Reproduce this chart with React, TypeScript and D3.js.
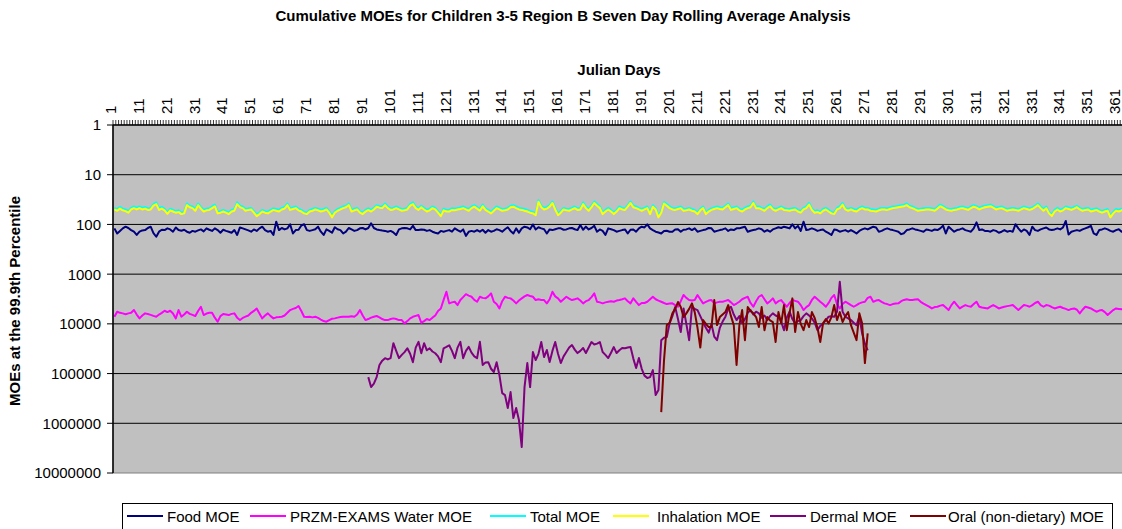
import React from 'react';
import * as d3 from 'd3';

const W = 1122;
const H = 529;

const dayCount = 365;
const tickDays = d3.range(1, 366, 10);
const yTicks = [1, 10, 100, 1000, 10000, 100000, 1000000, 10000000];

const foodMOE = [
  120,152,135,120,111,118,130,140,163,140,
  132,130,118,111,150,177,140,128,130,120,
  126,140,115,130,134,128,140,147,135,140,
  132,126,138,120,128,135,120,130,147,128,
  135,140,147,130,163,115,120,126,132,140,
  126,135,120,111,130,140,135,163,88,130,
  118,126,120,100,152,130,128,105,99,130,
  135,130,125,111,140,163,126,135,147,114,
  125,130,152,140,118,126,135,130,120,118,
  126,118,95,118,126,130,133,135,140,135,
  145,163,126,120,118,120,126,107,130,130,
  126,128,135,130,140,147,152,135,140,135,
  130,140,120,130,140,126,170,140,135,140,
  130,140,128,147,130,140,135,125,130,140,
  125,114,135,152,120,147,120,111,115,125,
  100,126,114,120,125,152,126,130,125,120,
  120,128,126,120,118,125,130,103,128,111,
  126,118,107,140,126,135,163,120,125,130,
  140,135,130,126,152,128,126,140,120,111,
  115,100,120,130,140,145,152,135,134,140,
  140,126,125,140,128,126,120,130,120,140,
  135,130,126,118,120,140,135,130,126,120,
  135,126,130,120,120,115,111,140,134,130,
  126,120,125,140,130,140,126,120,114,118,
  111,115,120,99,120,107,135,88,130,126,
  120,126,135,130,126,140,150,163,126,130,
  140,135,130,140,130,140,152,135,126,120,
  126,118,111,115,140,135,126,120,126,130,
  135,140,157,150,130,126,120,126,130,135,
  140,126,130,135,126,130,120,106,152,111,
  125,140,130,126,120,130,135,140,120,91,
  130,126,135,135,140,130,135,147,140,130,
  140,135,140,99,120,140,126,135,163,111,
  130,135,126,120,115,126,130,126,120,126,
  115,85,160,140,135,130,135,126,120,114,
  107,152,163,130,126,120,126,135,140,130,
  125,140,135,140,130,
];

const waterMOE = [
  7180,5700,6000,6150,6400,6150,6000,5280,6500,7760,
  6800,6150,6350,6600,6900,7180,6500,6000,5450,5800,
  5450,6200,7760,5280,7180,6500,5700,6300,6600,6950,
  5500,4530,6650,6200,6000,5950,7500,9050,7000,6350,
  6500,6650,6300,6150,7500,8390,7600,7180,6800,6000,
  5500,4900,6200,7760,6800,6150,7000,7760,7400,7300,
  7180,6800,6000,5280,5000,4800,4380,5500,7180,7300,
  7200,7400,7180,7600,8200,8800,9050,8400,7900,7760,
  7500,7300,7180,7180,7200,7000,7180,6500,5280,6800,
  8390,8000,7500,7200,6950,7400,8000,8390,8390,8000,
  7760,8000,8390,8390,9780,8800,7760,7200,6900,6650,
  9500,8800,8000,8390,7500,6800,5500,4900,3300,2260,
  3870,3700,3590,4190,3320,2900,2530,2700,2850,3300,
  3590,2850,3000,3070,2800,2440,3590,4000,4900,3500,
  2850,3000,3070,3400,3870,3400,3070,2800,2630,2750,
  2850,3320,3200,3300,3320,3870,3200,2260,2800,3070,
  3590,3200,2850,3100,3320,3200,3070,3400,3870,3500,
  3320,2900,2440,3590,3700,3870,3700,3600,3500,3590,
  3400,3320,3200,3070,3500,3870,3070,3600,4190,3800,
  3800,3590,3200,2850,3200,3400,3590,3800,4000,3900,
  3870,4200,4530,3500,2630,3000,3320,3400,3320,2630,
  3200,3870,3600,3400,3320,3870,3700,3600,3590,3450,
  3320,3700,4190,3900,3590,3200,3000,2850,3800,4530,
  3500,2850,2630,3200,3870,3500,3070,3870,3500,3320,
  3900,4530,3800,3320,3450,3590,4200,5280,4600,4190,
  3300,2850,3200,3590,4000,4530,3800,3000,2630,4000,
  4900,4000,3590,3870,4200,4530,4200,3870,3700,3590,
  3000,2850,3590,3400,3320,3600,3870,4000,4190,4000,
  3900,3870,3500,3300,3200,3300,3320,3250,3200,3600,
  3900,4190,4500,4900,4600,4530,4300,4190,4700,5280,
  4200,3590,4200,4900,4500,4190,4400,4530,4000,3590,
  4530,4700,4800,4900,4500,4190,4500,4900,4700,4530,
  4400,4300,4190,4700,5280,4700,4190,4300,4530,4200,
  3800,3590,4200,4530,4190,4300,4600,4900,4700,4530,
  4800,5000,5280,5000,4900,5200,6150,5200,4530,4700,
  4900,5300,5700,5400,5280,5800,6650,5900,5280,4900,
  5000,5100,5000,4900,5000,
];

const totalMOE = [
  46.5,49,44.5,48.5,50,54,46.5,43.5,46.5,43.5,
  46.5,44.5,47.5,46.5,39,36,47.5,44.5,48.5,56.5,
  48.5,51,54,52,57.5,56,38,42,43.5,49,
  38,44.5,51,48.5,47.5,43.5,40,56,54,51,
  54,57.5,51,49,36,42,43.5,49,47.5,46.5,
  54,63,57.5,51,54,56,51,47.5,49,51,
  46.5,44.5,38,47.5,45.5,43.5,48.5,51,56,57.5,
  51,49,46.5,48.5,51,49,46.5,54,67,54,
  49,46.5,43.5,42,38,51,48.5,46.5,54,57.5,
  51,47.5,51,46.5,41,43,43.5,38,43.5,47.5,
  46.5,43.5,46.5,49,48.5,46.5,39,36,43.5,47.5,
  42,46.5,51,48.5,43.5,46.5,54,63,48.5,51,
  51,47.5,48.5,46.5,45.5,43.5,46.5,49,43.5,41,
  44.5,49,40,47.5,51,56,49,43.5,46.5,49,
  48.5,46.5,42,41,43.5,46.5,47.5,49,51,54,
  56,60.5,32.5,42,46.5,44.5,41,34.5,46.5,60.5,
  54,46.5,48.5,49,46.5,43.5,47.5,46.5,36,43.5,
  49,42,34.5,39,43.5,57.5,51,46.5,51,57.5,
  51,43.5,46.5,47.5,41,34.5,42,43.5,46.5,49,
  46.5,43.5,57.5,41,46.5,67,54,35.5,39,43.5,
  46.5,47.5,45.5,43.5,49,48.5,46.5,49,51,57.5,
  48.5,43.5,57.5,51,47.5,45.5,43.5,45.5,46.5,42,
  38,47.5,45.5,43.5,48.5,51,46.5,43.5,42,34.5,
  43.5,43.5,46.5,49,43.5,40,46.5,49,46.5,43.5,
  47.5,48.5,49,47.5,46.5,51,54,46.5,43.5,37,
  47.5,54,52,56,49,46.5,51,56,57.5,46.5,
  43.5,37,46.5,49,46.5,49,51,46.5,43.5,46.5,
  46.5,49,50,51,48.5,46.5,46.5,47.5,45.5,43.5,
  43,42,41,40,38,42,43.5,46.5,49,48.5,
  47.5,46.5,46.5,47.5,49,44.5,40,43,46.5,48.5,
  49,47.5,46.5,44.5,43.5,45.5,47.5,43.5,41,43,
  46.5,43.5,42,41,40,43,46.5,44.5,43.5,46.5,
  49,47.5,46.5,47.5,49,46.5,43.5,45.5,47.5,45.5,
  42,38,43.5,49,43.5,56,63,51,46.5,51,
  48.5,43.5,45.5,47.5,44.5,42,46.5,49,47.5,46.5,
  51,49,47.5,51,54,51,49,67,56,49,
  51,48.5,46.5,49,47.5,
];

const inhalationMOE = [
  50,53,48,52,54,58,50,47,50,47,
  50,48,51,50,42,39,51,48,52,61,
  52,55,58,56,62,60,41,45,47,53,
  41,48,55,52,51,47,43,60,58,55,
  58,62,55,53,39,45,47,53,51,50,
  58,68,62,55,58,60,55,51,53,55,
  50,48,41,51,49,47,52,55,60,62,
  55,53,50,52,55,53,50,58,72,58,
  53,50,47,45,41,55,52,50,58,62,
  55,51,55,50,44,46,47,41,47,51,
  50,47,50,53,52,50,42,39,47,51,
  45,50,55,52,47,50,58,68,52,55,
  55,51,52,50,49,47,50,53,47,44,
  48,53,43,51,55,60,53,47,50,53,
  52,50,45,44,47,50,51,53,55,58,
  60,65,35,45,50,48,44,37,50,65,
  58,50,52,53,50,47,51,50,39,47,
  53,45,37,42,47,62,55,50,55,62,
  55,47,50,51,44,37,45,47,50,53,
  50,47,62,44,50,72,58,38,42,47,
  50,51,49,47,53,52,50,53,55,62,
  52,47,62,55,51,49,47,49,50,45,
  41,51,49,47,52,55,50,47,45,37,
  47,47,50,53,47,43,50,53,50,47,
  51,52,53,51,50,55,58,50,47,40,
  51,58,56,60,53,50,55,60,62,50,
  47,40,50,53,50,53,55,50,47,50,
  50,53,54,55,52,50,50,51,49,47,
  46,45,44,43,41,45,47,50,53,52,
  51,50,50,51,53,48,43,46,50,52,
  53,51,50,48,47,49,51,47,44,46,
  50,47,45,44,43,46,50,48,47,50,
  53,51,50,51,53,50,47,49,51,49,
  45,41,47,53,47,60,68,55,50,55,
  52,47,49,51,48,45,50,53,51,50,
  55,53,51,55,58,55,53,72,60,53,
  55,52,50,53,51,
];

const dermalStartDay = 92;
const dermalMOE = [
  118000,187000,160000,118000,67000,55000,49000,52000,49000,24500,
  35000,49000,42000,37000,31000,40000,59000,30000,23000,39000,
  24500,34000,31000,36000,39000,45000,59000,31000,29000,27000,
  35000,49000,30000,23000,49000,35000,29000,38000,45000,49000,
  23000,67000,60000,59000,80000,93000,59000,107000,247000,271000,
  494000,236000,786000,494000,862000,3010000,187000,61500,187000,36900,
  53500,40000,23200,46600,33600,58700,35000,23200,40000,61500,
  45000,36900,30000,26700,33000,38700,35000,30700,38700,30000,
  23200,26000,25000,23200,36900,42000,48700,38000,29300,38700,
  34000,30700,31000,30000,29300,50000,77500,48700,80000,110000,
  123000,118000,85100,271000,215000,21300,19000,18400,9780,7000,
  4590,8000,14600,4900,10000,21300,4590,5000,5280,7000,
  9200,12000,15000,10000,18000,21300,12000,9000,7180,5000,
  4530,6500,8390,7000,9780,8000,6000,5280,6500,5700,
  6150,7500,6800,8390,7000,6150,6800,7180,9000,13400,
  7500,5700,8000,9780,8800,8390,7000,6150,6800,7760,
  9500,13400,11000,9780,8500,7180,7000,7180,5700,1430,
  5700,7180,7800,8390,9500,10600,7180,15600,25000,34000,
];

const oralStartDay = 197;
const oralMOE = [
  595000,53500,10600,9500,6150,5000,3640,4590,7300,6150,
  5000,3870,5800,12000,30000,8390,10000,11600,11600,3320,
  10600,7300,6500,5800,4190,7000,10600,67400,10600,5280,
  21300,4590,5500,6150,7300,11600,4590,13400,7300,8500,
  9200,23200,5800,9780,4190,13400,6000,3070,14600,5800,
  10000,13400,8390,11600,5800,7640,12000,23200,9780,8000,
  9780,7300,4190,8390,5800,9200,7000,5800,10600,15000,
  21300,6150,9780,61500,15600,
];

const seriesNames = [
  'Food MOE',
  'PRZM-EXAMS Water MOE',
  'Total MOE',
  'Inhalation MOE',
  'Dermal MOE',
  'Oral (non-dietary) MOE',
];
const seriesColors = ['#000080', '#FF00FF', '#00FFFF', '#FFFF00', '#800080', '#800000'];
const seriesData = [foodMOE, waterMOE, totalMOE, inhalationMOE, dermalMOE, oralMOE];
const seriesStart = [1, 1, 1, 1, dermalStartDay, oralStartDay];

// layout
const plotLeft = 113;
const dayW = 2.79;
const plotTop = 125;
const plotBottom = 473;
const plotRight = plotLeft + dayCount * dayW;
const FONT = '"Liberation Sans", Arial, Helvetica, sans-serif';

const legendLineX = [127, 250, 490, 613, 770, 910];
const legendTextX = [167, 290, 530, 657, 810, 948];

export default function App() {
  const x = d3.scaleLinear().domain([0.5, dayCount + 0.5]).range([plotLeft, plotRight]);
  const y = d3.scaleLog().domain([1, 1e7]).range([plotTop, plotBottom]);
  const line = d3
    .line<[number, number]>()
    .x((d) => x(d[0]))
    .y((d) => y(d[1]));

  const tickXs = d3.range(0, dayCount + 1).map((i) => plotLeft + i * dayW);

  return (
    <svg
      width={W}
      height={H}
      style={{ position: 'absolute', left: 0, top: 0, background: '#fff' }}
      fontFamily={FONT}
    >
      <rect x={0} y={0} width={W} height={H} fill="#fff" />
      <text x={563} y={21} textAnchor="middle" fontSize={15} fontWeight="bold">
        Cumulative MOEs for Children 3-5 Region B Seven Day Rolling Average Analysis
      </text>
      <text x={619} y={75} textAnchor="middle" fontSize={15} fontWeight="bold">
        Julian Days
      </text>
      <text
        transform={`translate(20,${(plotTop + plotBottom) / 2 + 2}) rotate(-90)`}
        textAnchor="middle"
        fontSize={15}
        fontWeight="bold"
      >
        MOEs at the 99.9th Percentile
      </text>

      {/* plot area */}
      <rect
        x={plotLeft}
        y={plotTop}
        width={plotRight - plotLeft}
        height={plotBottom - plotTop}
        fill="#C0C0C0"
        stroke="#808080"
        strokeWidth={1}
      />
      {yTicks.slice(1, -1).map((t) => (
        <line key={t} x1={plotLeft} x2={plotRight} y1={y(t)} y2={y(t)} stroke="#000" strokeWidth={1} />
      ))}

      {/* series */}
      {seriesData.map((vals, si) => {
        const pts: [number, number][] = vals.map((v, i) => [seriesStart[si] + i, v]);
        return (
          <path
            key={si}
            d={line(pts) || ''}
            fill="none"
            stroke={seriesColors[si]}
            strokeWidth={2}
            strokeLinejoin="round"
          />
        );
      })}

      {/* y axis */}
      <line x1={plotLeft} x2={plotLeft} y1={plotTop} y2={plotBottom} stroke="#000" strokeWidth={1.5} />
      {yTicks.map((t) => (
        <g key={t}>
          <line x1={plotLeft - 6} x2={plotLeft} y1={y(t)} y2={y(t)} stroke="#000" strokeWidth={1} />
          <text x={101} y={y(t)} dy="0.36em" textAnchor="end" fontSize={15}>
            {t}
          </text>
        </g>
      ))}

      {/* x axis at top */}
      <line x1={plotLeft} x2={plotRight} y1={plotTop} y2={plotTop} stroke="#000" strokeWidth={1.5} />
      {tickXs.map((tx, i) => (
        <line key={i} x1={tx} x2={tx} y1={plotTop - 5} y2={plotTop} stroke="#000" strokeWidth={0.8} />
      ))}
      {tickDays.map((d) => (
        <text
          key={d}
          transform={`translate(${x(d) + 1.5},114) rotate(-90)`}
          textAnchor="start"
          fontSize={15}
        >
          {d}
        </text>
      ))}

      {/* legend */}
      <rect x={122.5} y={503.5} width={990} height={40} fill="#fff" stroke="#000" strokeWidth={1} />
      {seriesNames.map((n, i) => (
        <g key={n}>
          <line
            x1={legendLineX[i]}
            x2={legendLineX[i] + 36}
            y1={516}
            y2={516}
            stroke={seriesColors[i]}
            strokeWidth={2}
          />
          <text x={legendTextX[i]} y={521.5} fontSize={15}>
            {n}
          </text>
        </g>
      ))}
    </svg>
  );
}
